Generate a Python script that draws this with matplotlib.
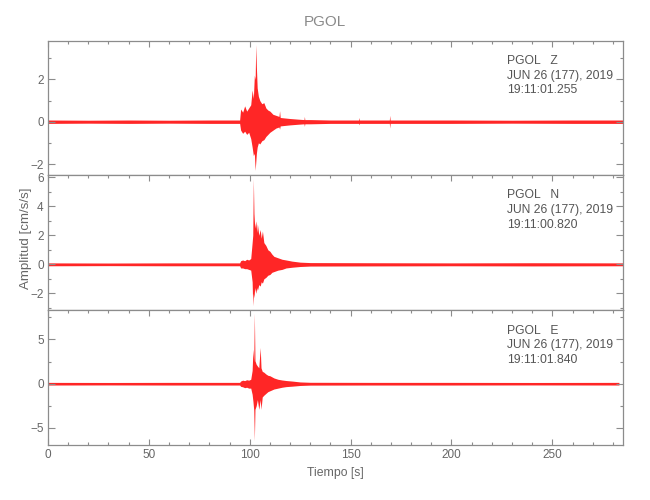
import numpy as np
from matplotlib import pyplot as plt
from matplotlib.ticker import MultipleLocator

# envelope of each trace (upper / lower), in cm/s/s
tz = [0, 20, 40, 60, 80, 95, 95.5, 96.5, 97.5, 98.5, 99.5, 100.5, 101.2, 101.8, 102.3, 102.7,
      103.0, 103.3, 103.7, 104.3, 105, 106, 107, 108, 109, 110, 111.5, 113, 114.5, 114.8,
      115.1, 117, 120, 124, 126.9, 127.1, 127.3, 130, 140, 153.9, 154.1, 154.3, 160, 169.2,
      169.4, 169.6, 175, 200, 230, 260, 285]
z_hi = [0.08, 0.07, 0.08, 0.07, 0.08, 0.08, 0.6, 0.45, 0.75, 0.5, 0.65, 0.8, 1.5, 1.1, 2.2, 2.0,
        3.65, 2.6, 1.6, 1.2, 1.0, 0.85, 0.9, 0.65, 0.55, 0.5, 0.35, 0.3, 0.25, 0.52,
        0.2, 0.18, 0.15, 0.12, 0.1, 0.25, 0.1, 0.1, 0.08, 0.08, 0.2, 0.08, 0.08, 0.08,
        0.3, 0.08, 0.08, 0.08, 0.07, 0.08, 0.08]
z_lo = [-0.08, -0.07, -0.08, -0.07, -0.08, -0.08, -0.4, -0.55, -0.45, -0.6, -0.5, -0.8, -1.2, -1.6, -1.5, -2.3,
        -1.9, -1.5, -1.2, -1.0, -1.05, -0.9, -0.85, -0.7, -0.6, -0.5, -0.4, -0.3, -0.25, -0.35,
        -0.2, -0.18, -0.15, -0.12, -0.1, -0.22, -0.1, -0.1, -0.08, -0.08, -0.15, -0.08, -0.08, -0.08,
        -0.3, -0.08, -0.08, -0.08, -0.07, -0.08, -0.08]

tn = [0, 30, 60, 90, 95, 95.5, 96.5, 97.5, 98.5, 99.5, 100.5, 101.2, 101.5, 101.8, 102.1, 102.5,
      103.0, 103.5, 103.8, 104.5, 105.2, 105.7, 106.3, 107, 108, 109, 110, 111, 112, 114, 116,
      118, 121, 125, 130, 160, 200, 240, 285]
n_hi = [0.1, 0.09, 0.1, 0.1, 0.1, 0.25, 0.3, 0.25, 0.35, 0.3, 0.4, 1.5, 2.0, 5.9, 3.5, 2.5,
        3.0, 2.2, 2.8, 2.0, 2.4, 1.8, 2.3, 1.5, 1.3, 1.0, 0.9, 0.7, 0.55, 0.45, 0.35,
        0.3, 0.22, 0.15, 0.12, 0.11, 0.1, 0.11, 0.1]
n_lo = [-0.1, -0.09, -0.1, -0.1, -0.1, -0.25, -0.25, -0.3, -0.3, -0.35, -0.4, -1.2, -2.85, -2.0, -2.3, -1.6,
        -2.0, -1.6, -1.8, -1.4, -1.5, -1.2, -1.3, -1.0, -0.9, -0.75, -0.7, -0.55, -0.5, -0.4, -0.35,
        -0.25, -0.2, -0.15, -0.12, -0.11, -0.1, -0.11, -0.1]

te = [0, 30, 60, 90, 95, 95.5, 96.5, 97.5, 98.5, 99.5, 100.5, 101.2, 101.6, 102.0, 102.3, 102.6,
      103.2, 103.8, 104.5, 105.2, 105.6, 106.2, 107, 108, 109, 110, 112, 114, 116, 118, 121,
      125, 130, 160, 200, 240, 283]
e_hi = [0.15, 0.14, 0.15, 0.15, 0.15, 0.3, 0.4, 0.35, 0.45, 0.4, 0.5, 1.5, 3.9, 2.5, 8.0, 2.6,
        2.2, 2.0, 1.8, 4.1, 1.8, 1.4, 1.3, 1.1, 0.95, 0.9, 0.65, 0.5, 0.42, 0.36, 0.3,
        0.2, 0.16, 0.15, 0.15, 0.14, 0.15]
e_lo = [-0.15, -0.14, -0.15, -0.15, -0.15, -0.3, -0.35, -0.45, -0.4, -0.5, -0.5, -1.2, -2.0, -3.0, -6.45, -2.9,
        -2.5, -1.8, -2.9, -1.8, -2.9, -1.5, -1.3, -1.1, -0.9, -0.8, -0.6, -0.5, -0.4, -0.33, -0.28,
        -0.2, -0.16, -0.15, -0.15, -0.14, -0.15]

labels = [['PGOL   Z', 'JUN 26 (177), 2019', '19:11:01.255'],
          ['PGOL   N', 'JUN 26 (177), 2019', '19:11:00.820'],
          ['PGOL   E', 'JUN 26 (177), 2019', '19:11:01.840']]

traces = [(tz, z_hi, z_lo), (tn, n_hi, n_lo), (te, e_hi, e_lo)]
ylims = [(-2.52, 3.83), (-3.17, 6.16), (-6.93, 8.3)]
ymaj = [2, 2, 5]
ymin = [1, 1, 2.5]

plt.rcParams['font.family'] = ['Liberation Sans', 'DejaVu Sans']
gray = '#8c8c8c'
tcol = '#666666'

fig = plt.figure(figsize=(6.5, 5), dpi=100)
# panel boxes (left, bottom, width, height)
boxes = [[0.0738, 0.65, 0.8846, 0.2686],
         [0.0738, 0.3794, 0.8846, 0.2706],
         [0.0738, 0.11, 0.8846, 0.2694]]

for i in range(3):
  ax = fig.add_axes(boxes[i])
  t, hi, lo = traces[i]
  ax.fill_between(t, lo, hi, color='red', lw=0, alpha=0.85)
  ax.set_xlim(0, 285)
  ax.set_ylim(*ylims[i])
  ax.xaxis.set_major_locator(MultipleLocator(50))
  ax.xaxis.set_minor_locator(MultipleLocator(10))
  ax.yaxis.set_major_locator(MultipleLocator(ymaj[i]))
  ax.yaxis.set_minor_locator(MultipleLocator(ymin[i]))
  last = (i == 2)
  ax.tick_params(which='both', direction='in', top=True, right=True, bottom=last,
                 labelbottom=last, colors=gray, labelcolor=tcol, labelsize=8.5, pad=3)
  ax.tick_params(which='major', axis='x', length=4.3, width=0.8)
  ax.tick_params(which='minor', axis='x', length=2.2, width=0.8)
  ax.tick_params(which='major', axis='y', length=5.2, width=0.8)
  ax.tick_params(which='minor', axis='y', length=2.4, width=0.8)
  for s in ax.spines.values():
    s.set_color(gray)
    s.set_linewidth(0.9)
  for k in range(3):
    ax.annotate(labels[i][k], xy=(0.798, 1), xycoords='axes fraction',
                xytext=(0, -20.5 - 14.5 * k), textcoords='offset pixels',
                va='center', ha='left', fontsize=8.7, color='#555555')
  if last:
    ax.set_xlabel('Tiempo [s]', color=tcol, fontsize=8.8, labelpad=4)

fig.text(0.040, 0.524, 'Amplitud [cm/s/s]', rotation=90, ha='center', va='center',
         color=tcol, fontsize=9.6)
fig.text(0.5, 0.956, 'PGOL', ha='center', va='center', color='#8a8a8a', fontsize=11)

fig.savefig('out.png', dpi=100)
